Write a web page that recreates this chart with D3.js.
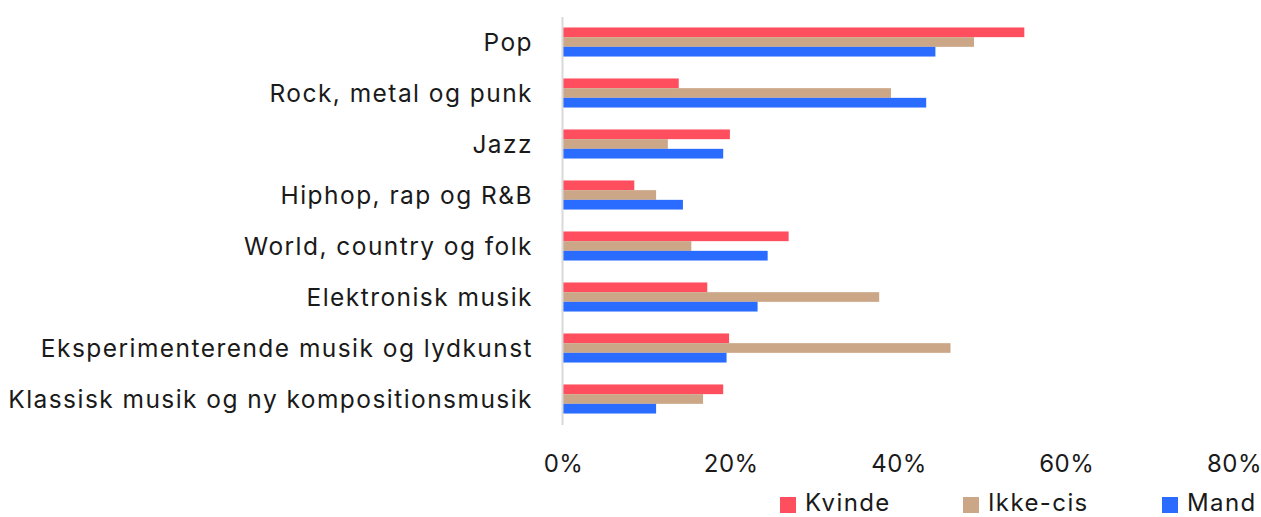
<!DOCTYPE html>
<html>
<head>
<meta charset="utf-8">
<script src="https://cdn.jsdelivr.net/npm/d3@7/dist/d3.min.js"></script>
<style>
  html, body { margin: 0; padding: 0; background: #fff; }
  svg { display: block; font-family: Inter, "Noto Sans", sans-serif; }
</style>
</head>
<body>
<svg id="chart" width="1261" height="517"></svg>
<script>
// Genres, top to bottom
const categories = [
  "Pop",
  "Rock, metal og punk",
  "Jazz",
  "Hiphop, rap og R&B",
  "World, country og folk",
  "Elektronisk musik",
  "Eksperimenterende musik og lydkunst",
  "Klassisk musik og ny kompositionsmusik"
];

// Share (%) per group
const series = ["Kvinde", "Ikke-cis", "Mand"];
const kvinde  = [55.0, 13.8, 19.9,  8.5, 26.9, 17.2, 19.8, 19.1];
const ikkeCis = [49.0, 39.1, 12.5, 11.1, 15.3, 37.7, 46.2, 16.7];
const mand    = [44.4, 43.3, 19.1, 14.3, 24.4, 23.2, 19.5, 11.1];
const tickValues = [0, 20, 40, 60, 80];

const colors = { "Kvinde": "#ff4f5e", "Ikke-cis": "#cca787", "Mand": "#296cff" };
const valuesBySeries = { "Kvinde": kvinde, "Ikke-cis": ikkeCis, "Mand": mand };

const svg = d3.select("#chart");

const x = d3.scaleLinear().domain([0, 80]).range([563, 1234]);
const y = d3.scaleBand().domain(categories).range([16.5, 424.5]).paddingInner(0.43).paddingOuter(0.215);
const ySub = d3.scaleBand().domain(series).range([0, y.bandwidth()]);

const rows = categories.map((c, i) => ({
  category: c,
  values: series.map(s => ({ series: s, value: valuesBySeries[s][i] }))
}));

// Bars
const groups = svg.append("g").selectAll("g")
  .data(rows).join("g")
  .attr("transform", d => `translate(0,${y(d.category)})`);

groups.selectAll("rect")
  .data(d => d.values).join("rect")
  .attr("x", x(0))
  .attr("y", d => ySub(d.series))
  .attr("width", d => x(d.value) - x(0))
  .attr("height", ySub.bandwidth())
  .attr("fill", d => colors[d.series]);

// Category axis (left)
const yAxis = svg.append("g")
  .attr("transform", `translate(${x(0) - 1},0)`)
  .call(d3.axisLeft(y).tickSize(0).tickPadding(29));
yAxis.select(".domain").attr("stroke", "#d9d9d9").attr("stroke-width", 2);
yAxis.selectAll("text")
  .attr("font-size", 24.5)
  .attr("font-family", "Inter, 'Noto Sans', sans-serif")
  .attr("letter-spacing", "1.45px")
  .attr("fill", "#1a1a1a")
  .attr("dy", "0.36em");

// Value axis (bottom), labels only
const xAxis = svg.append("g")
  .attr("transform", "translate(0,448)")
  .call(d3.axisBottom(x).tickValues(tickValues).tickSize(0).tickPadding(0).tickFormat(d => d + "%"));
xAxis.select(".domain").remove();
xAxis.selectAll("text")
  .attr("font-size", 24)
  .attr("font-family", "Inter, 'Noto Sans', sans-serif")
  .attr("letter-spacing", "0.5px")
  .attr("fill", "#1a1a1a")
  .attr("dy", "0.98em");

// Legend
const legendX = [780, 963, 1162];
const legend = svg.append("g").selectAll("g")
  .data(series).join("g")
  .attr("transform", (d, i) => `translate(${legendX[i]},0)`);
legend.append("rect")
  .attr("x", 0).attr("y", 497)
  .attr("width", 16).attr("height", 16)
  .attr("fill", d => colors[d]);
legend.append("text")
  .attr("x", 25).attr("y", 511)
  .attr("font-size", 24)
  .attr("letter-spacing", "1.4px")
  .attr("fill", "#1a1a1a")
  .text(d => d);
</script>
</body>
</html>
